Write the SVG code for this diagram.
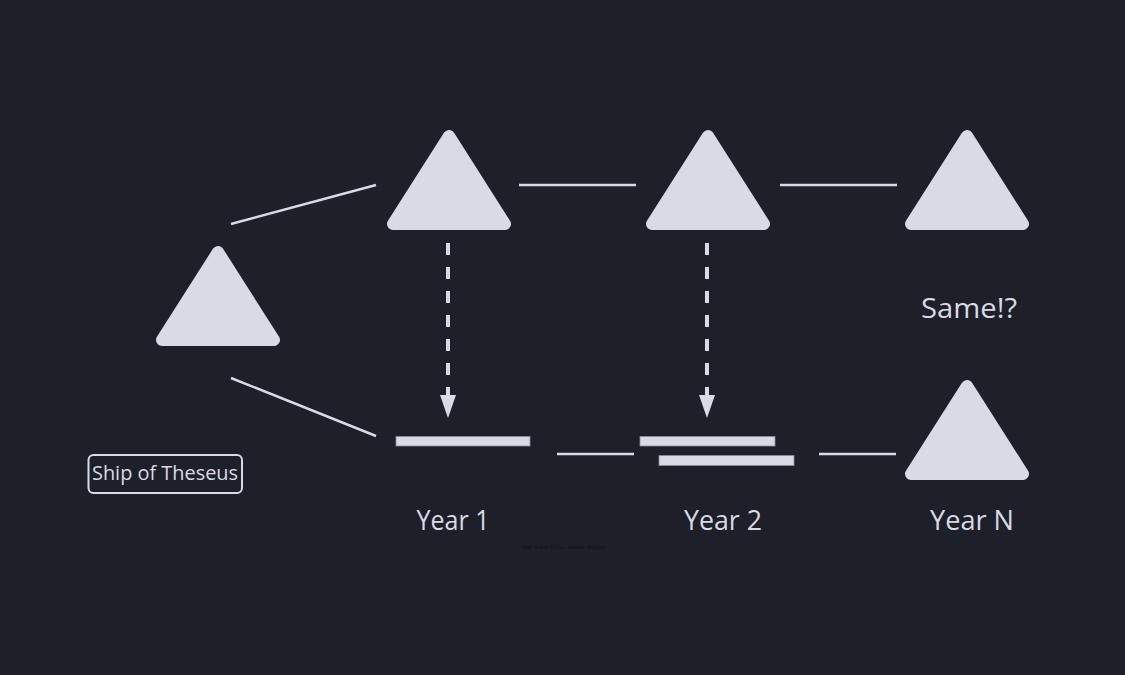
<svg xmlns="http://www.w3.org/2000/svg" width="1125" height="675" viewBox="0 0 1125 675">
<defs>
<style>
.tri{fill:#d8dae5;stroke:#d8dae5;stroke-width:12;stroke-linejoin:round}
.ln{stroke:#d8dae5;stroke-width:2.5;fill:none}
.dash{stroke:#d8dae5;stroke-width:4;fill:none;stroke-dasharray:12 12}
.bar{fill:#d8dae5;stroke:#8a8c96;stroke-width:0.8}
.lbl{fill:#d8dae5;font-family:"Open Sans","Noto Sans",sans-serif;text-anchor:middle}
</style>
</defs>
<rect width="1125" height="675" fill="#1d2028"/>
<g id="connectors">
<line class="ln" x1="231" y1="224" x2="376" y2="185"/>
<line class="ln" x1="231" y1="378" x2="376" y2="436"/>
<line class="ln" x1="519" y1="185" x2="636" y2="185"/>
<line class="ln" x1="780" y1="185" x2="897" y2="185"/>
<line class="ln" x1="557" y1="454" x2="634" y2="454"/>
<line class="ln" x1="819" y1="454" x2="896" y2="454"/>
<line class="dash" x1="448" y1="243" x2="448" y2="395"/>
<path d="M440,395 L456,395 L448,418 Z" fill="#d8dae5"/>
<line class="dash" x1="707" y1="243" x2="707" y2="395"/>
<path d="M699,395 L715,395 L707,418 Z" fill="#d8dae5"/>
</g>
<g id="ship-start"><path class="tri" d="M218,252 L274,340 L162,340 Z"/></g>
<g id="year1-ship"><path class="tri" d="M449,136 L505,224 L393,224 Z"/></g>
<g id="year2-ship"><path class="tri" d="M708,136 L764,224 L652,224 Z"/></g>
<g id="yearN-ship"><path class="tri" d="M967,136 L1023,224 L911,224 Z"/></g>
<g id="yearN-new"><path class="tri" d="M967,386 L1023,474 L911,474 Z"/></g>
<g id="year1-planks"><rect class="bar" x="396" y="436.5" width="134" height="9.5"/></g>
<g id="year2-planks">
<rect class="bar" x="640" y="436.5" width="135" height="9.5"/>
<rect class="bar" x="659" y="455.5" width="135" height="10"/>
</g>
<g id="title">
<rect x="88.5" y="455" width="153.5" height="38" rx="5" fill="none" stroke="#d8dae5" stroke-width="2"/>
<text class="lbl" x="165" y="480" font-size="20" textLength="146" lengthAdjust="spacingAndGlyphs">Ship of Theseus</text>
</g>
<g id="labels">
<text class="lbl" x="969" y="318" font-size="27" textLength="96" lengthAdjust="spacingAndGlyphs">Same!?</text>
<text class="lbl" x="453" y="530" font-size="27" textLength="73" lengthAdjust="spacingAndGlyphs">Year 1</text>
<text class="lbl" x="723" y="530" font-size="27" textLength="78" lengthAdjust="spacingAndGlyphs">Year 2</text>
<text class="lbl" x="972" y="530" font-size="27" textLength="84" lengthAdjust="spacingAndGlyphs">Year N</text>
<text x="563" y="549" font-size="7" fill="#0d0e12" text-anchor="middle" font-family="Liberation Serif,serif" textLength="84" lengthAdjust="spacingAndGlyphs">Text is not SVG - cannot display</text>
</g>
</svg>
